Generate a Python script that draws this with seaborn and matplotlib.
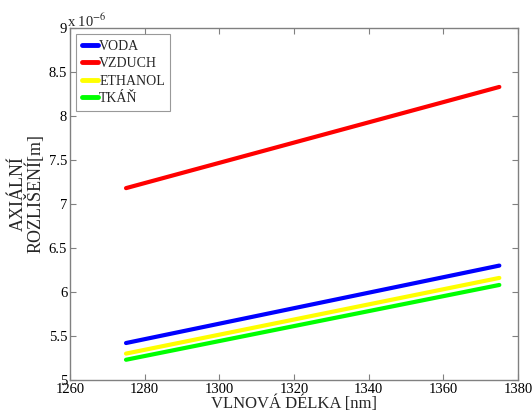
import matplotlib
matplotlib.use("Agg")
import matplotlib.pyplot as plt
import seaborn as sns
import pandas as pd
from matplotlib.ticker import FuncFormatter, MultipleLocator

# wavelength range [nm]
wavelength = [1275, 1375]
# axial resolution [m] at the ends of the range
voda = [5.42e-6, 6.30e-6]
vzduch = [7.18e-6, 8.33e-6]
ethanol = [5.30e-6, 6.16e-6]
tkan = [5.23e-6, 6.08e-6]

media = ["VODA", "VZDUCH", "ETHANOL", "TKÁŇ"]
colors = ["#0000ff", "#ff0000", "#ffff00", "#00ff00"]

rows = []
for name, vals in zip(media, [voda, vzduch, ethanol, tkan]):
    for x, y in zip(wavelength, vals):
        rows.append({"lam": x, "res": y, "medium": name})
df = pd.DataFrame(rows)

sns.set_theme(style="white")
plt.rcParams["font.family"] = ["Liberation Serif", "DejaVu Serif"]
plt.rcParams["mathtext.fontset"] = "stix"

fig = plt.figure(figsize=(5.32, 4.13), dpi=100)
ax = fig.add_axes([0.1316, 0.0799, 0.8421, 0.8524])

sns.lineplot(data=df, x="lam", y="res", hue="medium", hue_order=media,
             palette=colors, linewidth=3, ax=ax)

ax.set_xlim(1260, 1380)
ax.set_ylim(5e-6, 9e-6)
ax.xaxis.set_major_locator(MultipleLocator(20))
ax.yaxis.set_major_locator(MultipleLocator(0.5e-6))
ax.yaxis.set_major_formatter(FuncFormatter(lambda v, p: f"{v / 1e-6:g}"))

for s in ax.spines.values():
    s.set_color("#808080")
    s.set_linewidth(1.0)
ax.tick_params(direction="in", length=4, width=0.8, color="#808080",
               labelsize=10.5, labelcolor="black", top=True, right=True,
               bottom=True, left=True, pad=2)

ax.set_xlabel("VLNOVÁ DÉLKA [nm]", fontsize=12, labelpad=-0.5)
ax.set_ylabel("AXIÁLNÍ\nROZLIŠENÍ[m]", fontsize=13, linespacing=0.85)
ax.yaxis.set_label_coords(-0.057, 0.53)

ax.text(-0.006, 0.995, r"x 10$^{-6}$", transform=ax.transAxes,
        fontsize=10.5, ha="left", va="bottom")

leg = ax.legend(loc="upper left", fontsize=10, frameon=True, fancybox=False,
                edgecolor="#808080", handlelength=1.15, handletextpad=0.1,
                borderpad=0.4, labelspacing=0.32, borderaxespad=0.45)
leg.get_frame().set_linewidth(0.8)
for line in leg.get_lines():
    line.set_linewidth(3.5)

fig.savefig("out.png", dpi=100)
